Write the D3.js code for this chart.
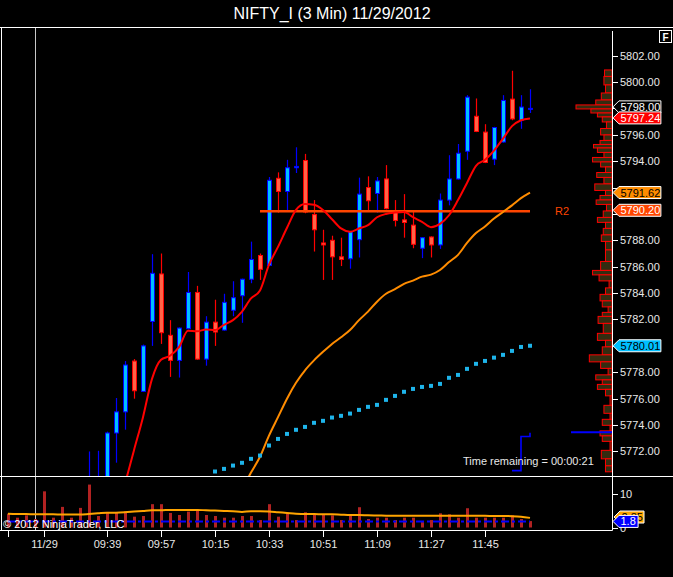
<!DOCTYPE html>
<html>
<head>
<meta charset="utf-8">
<script src="https://cdn.jsdelivr.net/npm/d3@7"></script>
<style>
  body { margin: 0; background: #000; }
  svg { display: block; font-family: "Liberation Sans", Arial, sans-serif; }
</style>
</head>
<body>
<svg id="chart"></svg>
<script>
// 3 minute bars, index 0..58 (bars 0-8 are below the visible price range)
const opens = [null, null, null, null, null, null, null, null, null,
  5768.8, 5769.0, 5769.5, 5773.4, 5775.0, 5778.85, 5776.55, 5781.85, 5785.45, 5780.8,
  5778.9, 5781.3, 5784.05, 5779.0, 5781.8, 5781.2, 5782.7, 5783.8, 5785.05, 5786.85,
  5786.1, 5792.7, 5791.7, 5793.5, 5794.05, 5789.95, 5787.8, 5788.0, 5786.75, 5786.6,
  5788.05, 5792.0, 5791.55, 5792.65, 5790.25, 5789.55, 5789.15, 5787.4, 5788.25, 5787.65,
  5791.05, 5792.65, 5794.75, 5797.4, 5796.2, 5794.15, 5795.45, 5798.7, 5797.1, 5797.95];
const highs = [null, null, null, null, null, null, null, null, null,
  5772.0, 5772.05, 5773.5, 5776.05, 5778.85, 5779.0, 5780.1, 5786.95, 5787.0, 5781.95,
  5781.4, 5785.6, 5784.55, 5782.25, 5783.5, 5783.95, 5784.9, 5785.1, 5787.9, 5787.0,
  5792.8, 5793.15, 5794.1, 5795.05, 5794.55, 5791.05, 5788.8, 5788.35, 5788.2, 5788.7,
  5792.75, 5792.85, 5792.8, 5793.7, 5791.05, 5791.5, 5790.3, 5788.25, 5788.3, 5791.55,
  5794.45, 5795.3, 5799.0, 5798.75, 5796.8, 5796.6, 5799.0, 5800.85, 5799.0, 5799.45];
const lows = [null, null, null, null, null, null, null, null, null,
  5768.0, 5768.5, 5769.0, 5771.15, 5773.65, 5776.0, 5776.5, 5780.0, 5780.15, 5777.65,
  5777.6, 5781.25, 5778.95, 5778.5, 5780.0, 5781.15, 5782.25, 5781.75, 5784.75, 5785.0,
  5786.05, 5790.1, 5790.15, 5793.1, 5790.05, 5787.15, 5785.0, 5785.0, 5786.05, 5785.85,
  5786.7, 5790.25, 5790.1, 5790.35, 5789.05, 5788.2, 5787.4, 5786.65, 5786.7, 5787.35,
  5790.65, 5792.6, 5794.1, 5796.2, 5793.85, 5793.7, 5795.4, 5797.1, 5796.45, 5797.65];
const closes = [null, null, null, null, null, null, null, null, null,
  5769.6, 5769.8, 5773.4, 5775.0, 5778.55, 5776.6, 5780.0, 5785.5, 5781.0, 5778.9,
  5781.35, 5784.05, 5779.0, 5781.8, 5781.05, 5783.3, 5783.65, 5785.05, 5786.55, 5785.8,
  5792.55, 5791.7, 5793.5, 5793.6, 5790.15, 5788.8, 5787.65, 5786.75, 5786.55, 5788.65,
  5791.5, 5791.0, 5792.5, 5790.4, 5789.5, 5789.35, 5787.7, 5788.2, 5787.65, 5791.05,
  5792.65, 5794.6, 5798.85, 5796.25, 5793.9, 5796.55, 5798.6, 5797.2, 5798.1, 5798.0];

// Volume panel
const volumes = [4.1, 2.9, 3.6, 2.5, 10.7, 2.9, 6.1, 2.9, 5.8, 12.7,
  3.4, 4.6, 4.6, 4.8, 3.2, 3.4, 6.9, 6.9, 4.3, 3.7,
  4.7, 5.4, 3.7, 3.4, 2.9, 2.9, 3.4, 3.4, 2.2, 6.9,
  3.2, 4.1, 2.2, 4.5, 3.8, 3.8, 3.6, 2.2, 3.4, 6.0,
  2.5, 2.9, 2.9, 2.2, 2.9, 2.9, 1.6, 2.2, 4.2, 3.9,
  2.9, 5.7, 2.9, 2.9, 2.9, 2.9, 3.6, 2.5, 1.9];
const volAvg = [4.1, 4.0, 4.0, 3.9, 3.9, 3.9, 3.85, 3.85, 3.85, 4.0,
  4.2, 4.4, 4.4, 4.5, 4.7, 4.9, 5.1, 5.1, 5.2, 5.2,
  5.2, 5.2, 5.1, 5.0, 4.9, 4.8, 4.6, 4.8, 4.8, 4.7,
  4.5, 4.3, 4.1, 4.0, 4.0, 3.9, 3.9, 3.8, 3.7, 3.7,
  3.6, 3.55, 3.5, 3.45, 3.45, 3.45, 3.45, 3.45, 3.45, 3.45,
  3.45, 3.45, 3.45, 3.45, 3.4, 3.4, 3.35, 3.2, 2.85];
const volLevel = 1.8;
const volAvgLast = "2.85";

// Indicators on the price panel
const fastMA = [null, null, null, null, null, null, null, null, null, null, null, null, null,
  5769.55, 5772.1, 5774.6, 5777.5, 5778.95, 5779.25, 5779.9, 5781.15, 5781.1, 5781.25,
  5781.2, 5781.6, 5781.95, 5782.6, 5783.6, 5784.2, 5786.15, 5787.5, 5788.95, 5790.3,
  5790.75, 5790.7, 5790.3, 5789.6, 5788.9, 5788.65, 5788.9, 5789.15, 5789.75, 5790.0,
  5790.1, 5790.15, 5789.75, 5789.4, 5789.0, 5789.25, 5789.9, 5791.05, 5792.35, 5793.65,
  5794.1, 5794.8, 5795.7, 5796.65, 5797.1, 5797.24];
const slowMA = [null, null, null, null, null, null, null, null, null, null, null, null, null,
  null, null, null, null, null, null, null, null, null, null, null, null, null,
  5769.1, 5770.4, 5771.6, 5773.2, 5774.6, 5776.0, 5777.2, 5778.15, 5778.9, 5779.55,
  5780.15, 5780.65, 5781.2, 5781.95, 5782.6, 5783.35, 5783.95, 5784.3, 5784.7, 5784.95,
  5785.25, 5785.4, 5785.75, 5786.35, 5786.9, 5787.8, 5788.55, 5789.05, 5789.65, 5790.15,
  5790.65, 5791.2, 5791.62];
const dotLine = [null, null, null, null, null, null, null, null, null, null, null, null,
  null, null, null, null, null, null, null, null, null, null, null,
  5770.48, 5770.68, 5770.93, 5771.14, 5771.44, 5771.69, 5772.45, 5772.95, 5773.33, 5773.64,
  5773.86, 5774.17, 5774.32, 5774.57, 5774.7, 5774.87, 5775.15, 5775.38, 5775.53, 5775.91,
  5776.21, 5776.52, 5776.74, 5776.89, 5776.97, 5777.12, 5777.58, 5777.8, 5778.26, 5778.64,
  5778.86, 5779.11, 5779.32, 5779.62, 5779.92, 5780.01];
const pivotR2 = 5790.20;
const pivotStartBar = 28;
const lastPrice = 5798.00;
const stepBars = [56, 57, 58, 58];
const stepValues = [5770.55, 5773.13, 5773.13, 5773.41];
const bidLevel = 5773.46;

// Volume at price profile on the right edge
const profilePrices = [5800.76, 5800.08, 5799.47, 5798.86, 5798.41, 5798.11, 5797.8, 5797.5, 5797.2,
  5796.74, 5796.21, 5795.76, 5795.38, 5795.15, 5794.85, 5794.47, 5794.09, 5793.79, 5793.33,
  5792.95, 5792.58, 5791.97, 5791.59, 5791.21, 5790.91, 5790.53, 5789.92, 5789.55, 5789.17,
  5788.64, 5788.18, 5787.65, 5786.89, 5785.91, 5785.53, 5785.23, 5784.62, 5784.17, 5783.64,
  5783.18, 5782.73, 5782.35, 5782.12, 5781.29, 5780.61, 5780.23, 5779.62, 5779.02, 5778.56,
  5778.03, 5777.58, 5777.27, 5776.89, 5776.52, 5775.91, 5775.08, 5774.7, 5774.17, 5773.79,
  5773.33, 5773.03, 5772.5, 5771.67, 5771.21, 5770.61];
const profileVolumes = [7.7, 8.3, 6.7, 11, 16.7, 37, 21.7, 15, 10,
  5.7, 11.7, 8.3, 12.3, 19, 15, 8.3, 20, 11.7, 6.7,
  15.7, 8.3, 17.7, 6.7, 12.3, 16.3, 5.7, 9, 15, 6.7,
  9, 11, 6.7, 6.7, 11.7, 20, 13.3, 3, 6.7, 12.3,
  10, 4, 10, 14.3, 9, 15, 6.7, 10, 23.3, 11.7,
  4, 16.7, 10, 15, 6.7, 2, 8.3, 2, 10, 2,
  12.3, 10, 2, 11, 6.7, 6.7];

// Axis labels
const priceTicks = [5772, 5774, 5776, 5778, 5780, 5782, 5784, 5786, 5788, 5790, 5792, 5794, 5796, 5798, 5800, 5802];
const volTicks = [0, 10];
const timeTickBars = [0, 4, 11, 17, 23, 29, 35, 41, 47, 53];
const timeTickLabels = ["", "11/29", "09:39", "09:57", "10:15", "10:33", "10:51", "11:09", "11:27", "11:45"];
const sessionBreakBar = 3.05;

const width = 673;
const height = 577;
const axisX = 612;
const pricePanel = { top: 28, bottom: 476 };
const volPanel = { top: 476, bottom: 531 };
const textColor = "#e8e8e8";
const axisFont = 11;

const svg = d3.select("#chart")
    .attr("width", width)
    .attr("height", height);

svg.append("rect").attr("width", width).attr("height", height).attr("fill", "#000");

const x = d3.scaleLinear().domain([0, 58]).range([8, 530]);
const y = d3.scaleLinear().domain([5770.14, 5804.09]).range([pricePanel.bottom, pricePanel.top]);
const yv = d3.scaleLinear().domain([0, 10]).range([527.5, 493.7]);
const pw = d3.scaleLinear().domain([0, 37]).range([0, 36]);

// Title
svg.append("text")
    .attr("x", 332).attr("y", 19)
    .attr("text-anchor", "middle")
    .attr("fill", "#fff")
    .attr("font-size", 16)
    .text("NIFTY_I (3 Min)  11/29/2012");

// Clip for price panel
svg.append("clipPath").attr("id", "clipPrice")
    .append("rect").attr("x", 2).attr("y", pricePanel.top).attr("width", axisX - 2).attr("height", pricePanel.bottom - pricePanel.top);

const price = svg.append("g").attr("clip-path", "url(#clipPrice)");

// Session break line
svg.append("line")
    .attr("x1", Math.round(x(sessionBreakBar)) + 0.5).attr("x2", Math.round(x(sessionBreakBar)) + 0.5)
    .attr("y1", pricePanel.top).attr("y2", volPanel.bottom)
    .attr("stroke", "#c8c8c8").attr("stroke-width", 1);

// Volume profile
const profile = profilePrices.map((p, k) => ({ p, v: profileVolumes[k], k }));
const levelTop = d => {
    const prev = profile[d.k - 1];
    return prev ? (y(prev.p) + y(d.p)) / 2 : y(d.p) - 2;
};
const levelBottom = d => {
    const next = profile[d.k + 1];
    return next ? (y(next.p) + y(d.p)) / 2 : y(d.p) + 2;
};
price.selectAll(".vap").data(profile).join("rect")
    .attr("class", "vap")
    .attr("x", d => axisX - pw(d.v))
    .attr("width", d => pw(d.v))
    .attr("y", levelTop)
    .attr("height", d => levelBottom(d) - levelTop(d))
    .attr("fill", "#332c10")
    .attr("stroke", "#ff0000")
    .attr("stroke-width", 1);

// Candles
const bars = d3.range(opens.length)
    .filter(i => opens[i] !== null)
    .map(i => ({ i, o: opens[i], h: highs[i], l: lows[i], c: closes[i], up: closes[i] >= opens[i] }));

price.selectAll(".wick").data(bars).join("line")
    .attr("class", "wick")
    .attr("x1", d => x(d.i) + 0.5).attr("x2", d => x(d.i) + 0.5)
    .attr("y1", d => y(d.h)).attr("y2", d => y(d.l))
    .attr("stroke", d => d.up ? "#0000ff" : "#ff0000")
    .attr("stroke-width", 1.2);

price.selectAll(".body").data(bars).join("rect")
    .attr("class", "body")
    .attr("x", d => x(d.i) - 1.5)
    .attr("width", 4)
    .attr("y", d => y(Math.max(d.o, d.c)))
    .attr("height", d => Math.max(1, Math.abs(y(d.o) - y(d.c))))
    .attr("fill", d => d.up ? "#00bfff" : "#ff6347")
    .attr("stroke", d => d.up ? "#0000ff" : "#ff0000")
    .attr("stroke-width", 1);

// Pivot R2
price.append("line")
    .attr("x1", x(pivotStartBar)).attr("x2", x(58))
    .attr("y1", y(pivotR2)).attr("y2", y(pivotR2))
    .attr("stroke", "#ff4500").attr("stroke-width", 2.5);
svg.append("text")
    .attr("x", 555).attr("y", y(pivotR2) + 4)
    .attr("fill", "#ff4500").attr("font-size", 11)
    .text("R2");

// Moving averages
const lineOf = arr => d3.line()
    .defined(d => d !== null)
    .x((d, i) => x(i))
    .y(d => y(d))
    .curve(d3.curveMonotoneX)(arr);

price.append("path").attr("d", lineOf(slowMA))
    .attr("fill", "none").attr("stroke", "#ff8c00").attr("stroke-width", 2);
price.append("path").attr("d", lineOf(fastMA))
    .attr("fill", "none").attr("stroke", "#ff0000").attr("stroke-width", 2);

// Dotted indicator
price.selectAll(".dot").data(dotLine.map((v, i) => ({ v, i })).filter(d => d.v !== null)).join("rect")
    .attr("class", "dot")
    .attr("x", d => x(d.i) - 2).attr("y", d => y(d.v) - 2)
    .attr("width", 4).attr("height", 4)
    .attr("fill", "#1eb4ea");

// Blue step and bid line
price.append("path")
    .attr("d", d3.line().x((d, k) => x(stepBars[k])).y(d => y(d)).curve(d3.curveStepAfter)(stepValues))
    .attr("fill", "none").attr("stroke", "#0000ff").attr("stroke-width", 1.6);
price.append("line")
    .attr("x1", 571).attr("x2", axisX)
    .attr("y1", y(bidLevel)).attr("y2", y(bidLevel))
    .attr("stroke", "#0000ff").attr("stroke-width", 2);

svg.append("text")
    .attr("x", 463).attr("y", 465)
    .attr("fill", textColor).attr("font-size", 11)
    .text("Time remaining = 00:00:21");

// Volume panel
const vol = svg.append("g");
vol.selectAll(".vbar").data(volumes).join("rect")
    .attr("class", "vbar")
    .attr("x", (d, i) => x(i) - 1)
    .attr("width", 3)
    .attr("y", d => yv(d))
    .attr("height", d => yv(0) - yv(d))
    .attr("fill", "#b22222");

vol.append("line")
    .attr("x1", x(0)).attr("x2", x(58))
    .attr("y1", yv(volLevel)).attr("y2", yv(volLevel))
    .attr("stroke", "#0000ff").attr("stroke-width", 2)
    .attr("stroke-dasharray", "8,3,3,3");

vol.append("path")
    .attr("d", d3.line().x((d, i) => x(i)).y(d => yv(d)).curve(d3.curveMonotoneX)(volAvg))
    .attr("fill", "none").attr("stroke", "#ffa500").attr("stroke-width", 2);

svg.append("text")
    .attr("x", 3).attr("y", 528)
    .attr("fill", "#fff").attr("font-size", 11)
    .text("\u00a9 2012 NinjaTrader, LLC");

// Frames
const frame = svg.append("g").attr("stroke", "#fff").attr("stroke-width", 1);
frame.append("line").attr("x1", 0).attr("x2", width).attr("y1", 27.5).attr("y2", 27.5);
frame.append("line").attr("x1", 0).attr("x2", width).attr("y1", 476.5).attr("y2", 476.5);
frame.append("line").attr("x1", 0).attr("x2", axisX + 0.5).attr("y1", 530.5).attr("y2", 530.5);
frame.append("line").attr("x1", 1.5).attr("x2", 1.5).attr("y1", 27.5).attr("y2", 530.5);
frame.append("line").attr("x1", axisX + 0.5).attr("x2", axisX + 0.5).attr("y1", 31).attr("y2", 530.5);

// "F" box
svg.append("rect").attr("x", 659.5).attr("y", 30.5).attr("width", 12).attr("height", 12)
    .attr("fill", "#000").attr("stroke", "#fff");
svg.append("text").attr("x", 665.5).attr("y", 40.5).attr("text-anchor", "middle")
    .attr("fill", "#fff").attr("font-size", 10).attr("font-weight", "bold").text("F");

// Value markers on the price axis (their labels hide the tick labels underneath)
const markers = [
    { yc: y(lastPrice) - 1.5, label: d3.format(".2f")(lastPrice), fill: "#000", color: "#fff" },
    { yc: y(fastMA[58]) - 0.5, label: d3.format(".2f")(fastMA[58]), fill: "#ff0000", color: "#fff" },
    { yc: y(slowMA[58]), label: d3.format(".2f")(slowMA[58]), fill: "#ff8c00", color: "#000" },
    { yc: y(pivotR2) - 1, label: d3.format(".2f")(pivotR2), fill: "#ff4500", color: "#fff" },
    { yc: y(dotLine[58]), label: d3.format(".2f")(dotLine[58]), fill: "#00bfff", color: "#000" }
];
const hidden = d => markers.some(m => Math.abs(m.yc - y(d)) < 11);

// Price axis
const pAxis = svg.append("g");
pAxis.selectAll(".pt").data(priceTicks).join("line")
    .attr("x1", axisX).attr("x2", axisX + 6)
    .attr("y1", d => Math.round(y(d)) + 0.5).attr("y2", d => Math.round(y(d)) + 0.5)
    .attr("stroke", "#fff");
pAxis.selectAll(".pl").data(priceTicks.filter(d => !hidden(d))).join("text")
    .attr("x", 620).attr("y", d => y(d) + 4)
    .attr("fill", textColor).attr("font-size", axisFont)
    .text(d => d3.format(".2f")(d));

// Volume axis
svg.selectAll(".vt").data(volTicks).join("line")
    .attr("x1", axisX).attr("x2", axisX + 6)
    .attr("y1", d => Math.round(yv(d)) + 0.5).attr("y2", d => Math.round(yv(d)) + 0.5)
    .attr("stroke", "#fff");
svg.selectAll(".vl").data(volTicks).join("text")
    .attr("x", 620).attr("y", d => yv(d) + 4)
    .attr("fill", textColor).attr("font-size", axisFont)
    .text(d => d);

// Time axis
svg.selectAll(".tt").data(timeTickBars).join("line")
    .attr("x1", d => x(d) + 0.5).attr("x2", d => x(d) + 0.5)
    .attr("y1", 531).attr("y2", 537)
    .attr("stroke", "#fff");
svg.selectAll(".tl").data(timeTickBars).join("text")
    .attr("x", d => x(d) + 0.5).attr("y", 547.5)
    .attr("text-anchor", "middle")
    .attr("fill", textColor).attr("font-size", axisFont)
    .text((d, k) => timeTickLabels[k]);

function marker(yc, label, fill, color, left, w) {
    const boxW = w || label.length * 5.7 + 2;
    svg.append("path")
        .attr("d", `M${left},${yc} L${left + 6},${yc - 6} L${left + 6 + boxW},${yc - 6} L${left + 6 + boxW},${yc + 6} L${left + 6},${yc + 6} Z`)
        .attr("fill", fill).attr("stroke", "#fff").attr("stroke-width", 1);
    svg.append("text")
        .attr("x", left + 7.5).attr("y", yc + 4)
        .attr("fill", color).attr("font-size", axisFont)
        .text(label);
}

markers.forEach(m => marker(m.yc, m.label, m.fill, m.color, axisX + 1));
marker(yv(3.1), volAvgLast, "#ffa500", "#000", axisX + 2, 24);
marker(yv(volLevel), String(volLevel), "#0000ff", "#fff", axisX + 1);
</script>
</body>
</html>
